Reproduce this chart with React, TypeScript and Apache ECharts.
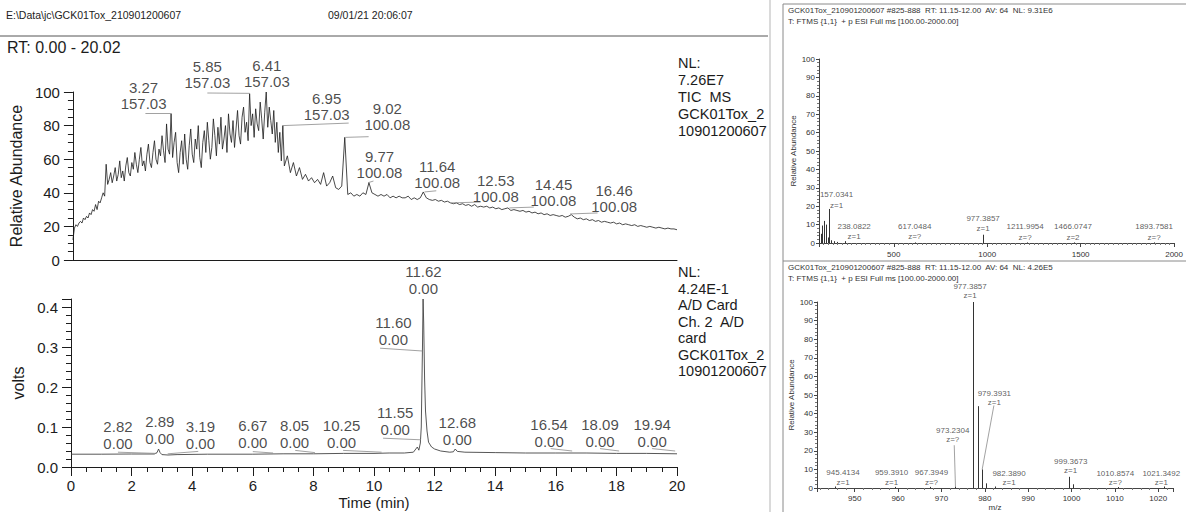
import { useEffect, useRef } from 'react';
import * as echarts from 'echarts';

// ================= DATA =================
// TIC trace, 0.00–6.95 min sampled every 0.05 min (relative abundance, %)
const TIC_EARLY_START = 0;
const TIC_EARLY_STEP = 0.05;
const TIC_EARLY = [
  12, 19, 21, 20, 22, 23, 22, 25, 24, 26,
  25, 28, 27, 30, 29, 33, 30, 35, 34, 37,
  40, 38, 57, 45, 48, 52, 46, 50, 55, 47,
  51, 59, 49, 53, 47, 56, 61, 52, 50, 58,
  54, 64, 57, 52, 60, 67, 56, 59, 53, 63,
  69, 58, 55, 64, 71, 60, 57, 66, 62, 74,
  65, 58, 81, 66, 63, 87, 61, 70, 76, 58,
  52, 64, 71, 57, 75, 60, 54, 68, 78, 63,
  58, 72, 66, 80, 61, 55, 70, 77, 64, 82,
  71, 60, 67, 84, 74, 62, 79, 69, 85, 66,
  72, 80, 64, 87, 75, 70, 83, 67, 78, 89,
  74, 69, 85, 91, 76, 82, 71, 99, 80, 87,
  73, 90, 81, 77, 94, 84, 72, 88, 100, 79,
  91, 83, 75, 89, 70, 82, 64, 76, 59, 80,
];
// TIC trace, 7.0–20.0 min sampled every 0.1 min
const TIC_LATE_START = 7;
const TIC_LATE_STEP = 0.1;
const TIC_LATE = [
  56, 62, 52, 58, 50, 55, 48, 51, 47, 49,
  46, 48, 45, 52, 44, 46, 50, 43, 42, 44,
  73, 39, 40, 38, 39, 38, 40, 39, 46, 40,
  39, 38, 39, 38, 39, 37, 38, 37, 38, 37,
  37, 38, 36, 37, 36, 37, 40.5, 37, 36, 35.5,
  36, 35, 35.5, 34.5, 35, 34, 33.5, 34, 33, 33.5,
  32.5, 33, 32, 33, 31.5, 32, 31.5, 32, 31, 31.5,
  30.5, 31, 30, 30.5, 31, 29.5, 30, 29.5, 29, 29.5,
  28.5, 29, 28, 28.5, 27.5, 28, 27, 27.5, 26.5, 27,
  26.5, 26, 26.5, 25.5, 26, 27, 25.5, 24.5, 25, 24,
  24.5, 23.5, 24, 23, 23.5, 22.5, 23, 22.5, 22, 22.5,
  21.5, 22, 21, 21.5, 21, 20.5, 21, 20, 20.5, 20,
  19.5, 20, 19.5, 19, 19.5, 19, 18.5, 19, 18.5, 18.5,
  18,
];
const TIC_PEAK_RT = [3.27, 5.85, 6.41, 6.95, 9.02, 9.77, 11.64, 12.53, 14.45, 16.46];
const TIC_PEAK_MASS = ['157.03', '157.03', '157.03', '157.03', '100.08', '100.08', '100.08', '100.08', '100.08', '100.08'];
const TIC_PEAK_APEX = [87.5, 99.2, 100, 80, 73, 46, 40.5, 34, 31, 27.4];

// A/D card channel 2 (volts)
const AD_TIME = [0, 1, 2, 2.75, 2.84, 2.89, 2.94, 3.0, 3.2, 3.5, 4.5, 6, 7, 8, 9, 10, 10.5, 11, 11.3, 11.38, 11.43, 11.48, 11.53, 11.56, 11.58, 11.6, 11.62, 11.64, 11.67, 11.7, 11.75, 11.8, 11.9, 12.0, 12.2, 12.5, 12.62, 12.68, 12.75, 13, 14, 15, 16, 17, 18, 19, 20];
const AD_VOLTS = [0.032, 0.032, 0.0325, 0.0325, 0.036, 0.045, 0.036, 0.031, 0.03, 0.031, 0.032, 0.032, 0.033, 0.033, 0.034, 0.034, 0.035, 0.035, 0.037, 0.045, 0.05, 0.042, 0.06, 0.1, 0.2, 0.3, 0.42, 0.36, 0.22, 0.14, 0.09, 0.062, 0.05, 0.045, 0.04, 0.037, 0.038, 0.045, 0.039, 0.037, 0.036, 0.035, 0.035, 0.035, 0.034, 0.034, 0.033];
const AD_PEAK_RT = [2.82, 2.89, 3.19, 6.67, 8.05, 10.25, 11.55, 11.60, 11.62, 12.68, 16.54, 18.09, 19.94];
const AD_PEAK_AREA = ['0.00', '0.00', '0.00', '0.00', '0.00', '0.00', '0.00', '0.00', '0.00', '0.00', '0.00', '0.00', '0.00'];
const AD_PEAK_APEX = [0.034, 0.045, 0.033, 0.035, 0.036, 0.037, 0.068, 0.29, 0.42, 0.045, 0.04, 0.04, 0.04];

// Mass spectrum 1 (m/z 100–2000)
const MS1_MZ = [103, 110, 118, 127, 140, 148, 157.0341, 168, 180, 200, 238.0822, 617.0484, 977.3857, 1211.9954, 1466.0747, 1893.7581];
const MS1_INT = [5.5, 5, 9.5, 12, 10, 3, 18.5, 1.5, 1, 0.6, 1, 0.3, 4.5, 0.3, 0.3, 0.3];
const MS1_LABEL_MZ = ['157.0341', '238.0822', '617.0484', '977.3857', '1211.9954', '1466.0747', '1893.7581'];
const MS1_LABEL_Z = ['z=1', 'z=1', 'z=?', 'z=1', 'z=?', 'z=2', 'z=?'];

// Mass spectrum 2 (zoom m/z 941–1023)
const MS2_MZ = [945.4134, 959.391, 967.3949, 973.2304, 977.3857, 978.39, 979.3931, 980.39, 982.389, 999.3673, 1000.37, 1010.8574, 1021.3492];
const MS2_INT = [0.8, 0.6, 0.6, 0.8, 100, 44, 10, 2.5, 0.8, 6, 2, 0.5, 0.8];
const MS2_LABEL_MZ = ['977.3857', '979.3931', '973.2304', '945.4134', '959.3910', '967.3949', '982.3890', '999.3673', '1010.8574', '1021.3492'];
const MS2_LABEL_Z = ['z=1', 'z=1', 'z=?', 'z=1', 'z=1', 'z=?', 'z=1', 'z=1', 'z=?', 'z=1'];

// ================= LAYOUT (label anchors, in axis units) =================
const TIC_LABEL_AT = [[2.34, 88], [4.45, 100.6], [6.42, 101], [8.4, 81.5], [10.41, 75.6], [10.15, 47], [12.06, 41], [14.0, 32.7], [15.91, 30.4], [17.92, 26.8]];
const TIC_LINK_END = [[2.4, 87.5], [4.45, 99.4], null, [9.13, 81.5], [9.79, 73.4], [9.95, 47], [12.03, 41.2], [13.5, 34.5], [15.26, 31.5], [17.37, 28]];
const AD_LABEL_AT = [[1.55, 0.0375], [2.93, 0.05], [4.27, 0.0375], [6.0, 0.04], [7.38, 0.04], [8.93, 0.04], [10.7, 0.0725], [10.64, 0.2975], [11.63, 0.425], [12.75, 0.0475], [15.78, 0.0425], [17.46, 0.0425], [19.18, 0.0425]];
const AD_LINK_END = [[1.55, 0.037], null, [4.2, 0.039], [6.0, 0.0385], [7.4, 0.0415], [8.98, 0.0415], [10.3, 0.072], [10.2, 0.297], null, null, [15.83, 0.046], [17.46, 0.046], [19.18, 0.046]];
const MS1_LABEL_AT = [[194, 17.5], [288, 0.3], [612, 0.3], [978, 4.5], [1203, 0], [1459, 0], [1893, 0]];
const MS2_LABEL_AT = [[976.6, 100.5], [982.2, 43], [972.6, 23], [947.3, 0.3], [958.5, 0.3], [967.7, 0.3], [985.6, 0], [999.8, 6.5], [1010.1, 0], [1020.7, 0]];
const MS2_LINKS = [[[979.3931, 10], [982.1, 44.4]], [[973.2304, 0.8], [972.95, 23]]];

const FONT = "'Liberation Sans', Arial, Helvetica, sans-serif";
const INK = '#1c1c1c';
const SOFT = '#333333';
const LINK = '#8a8a8a';

function labelSeries(xi: number, yi: number, at: number[][], texts: string[], fontSize: number, lineHeight: number, color: string) {
  return {
    type: 'scatter',
    xAxisIndex: xi,
    yAxisIndex: yi,
    symbolSize: 1,
    clip: false,
    silent: true,
    itemStyle: { color: 'rgba(0,0,0,0)' },
    label: {
      show: true,
      position: 'top',
      distance: 0,
      formatter: (p: any) => p.data.text,
      fontSize,
      lineHeight,
      color,
      fontFamily: FONT,
    },
    data: at.map((pos, i) => ({ value: pos, text: texts[i] })),
    z: 6,
  };
}

function linkSeries(xi: number, yi: number, pairs: number[][][], color: string, width: number) {
  return {
    type: 'lines',
    coordinateSystem: 'cartesian2d',
    xAxisIndex: xi,
    yAxisIndex: yi,
    polyline: false,
    silent: true,
    symbol: ['none', 'none'],
    lineStyle: { color, width, opacity: 1, curveness: 0 },
    data: pairs.map((c) => ({ coords: c })),
    z: 4,
  };
}

function stickSeries(xi: number, yi: number, mz: number[], inten: number[], color: string) {
  return linkSeries(xi, yi, mz.map((m, i) => [[m, 0], [m, inten[i]]]), color, 1);
}

function txt(x: number, y: number, text: string, fontSize: number, fill: string, vAlign = 'middle', lineHeight?: number) {
  return {
    type: 'text',
    x,
    y,
    silent: true,
    style: {
      text,
      fontSize,
      fontFamily: FONT,
      fill,
      align: 'left',
      textAlign: 'left',
      verticalAlign: vAlign,
      textVerticalAlign: vAlign,
      lineHeight: lineHeight || Math.round(fontSize * 1.2),
    },
  };
}

function hline(x1: number, y1: number, x2: number, y2: number, stroke: string) {
  return { type: 'line', silent: true, shape: { x1, y1, x2, y2 }, style: { stroke, lineWidth: 1 } };
}

export default function App() {
  const ref = useRef<HTMLDivElement>(null);

  useEffect(() => {
    if (!ref.current) return;
    const chart = echarts.init(ref.current, undefined, { renderer: 'svg' });

    const ticData: number[][] = [];
    TIC_EARLY.forEach((v, i) => ticData.push([+(TIC_EARLY_START + i * TIC_EARLY_STEP).toFixed(2), v]));
    TIC_LATE.forEach((v, i) => ticData.push([+(TIC_LATE_START + i * TIC_LATE_STEP).toFixed(2), v]));

    const ticLinks: number[][][] = [];
    TIC_PEAK_RT.forEach((rt, i) => {
      const e = TIC_LINK_END[i];
      if (e) ticLinks.push([[rt, TIC_PEAK_APEX[i]], e]);
    });
    const adLinks: number[][][] = [];
    AD_PEAK_RT.forEach((rt, i) => {
      const e = AD_LINK_END[i];
      if (e) adLinks.push([[rt, AD_PEAK_APEX[i]], e]);
    });

    const bigAxisY = (name: string, extra: any) => ({
      type: 'value',
      axisLine: { show: true, lineStyle: { color: INK, width: 1 } },
      axisTick: { show: true, length: 9, lineStyle: { color: INK } },
      minorTick: { show: true, length: 5, lineStyle: { color: INK } },
      axisLabel: { fontSize: 15, color: INK, margin: 13, fontFamily: FONT },
      splitLine: { show: false },
      minorSplitLine: { show: false },
      name,
      nameLocation: 'middle',
      nameGap: 39,
      nameTextStyle: { fontSize: 16, color: INK, fontFamily: FONT },
      ...extra,
    });

    const msAxisY = (gridIndex: number, nameGap: number) => ({
      type: 'value',
      gridIndex,
      min: 0,
      max: 100,
      interval: 10,
      axisLine: { show: true, lineStyle: { color: '#444', width: 1 } },
      axisTick: { show: true, length: 3, lineStyle: { color: '#444' } },
      minorTick: { show: true, splitNumber: 5, length: 2, lineStyle: { color: '#777' } },
      axisLabel: { fontSize: 8, color: SOFT, margin: 4, fontFamily: FONT },
      splitLine: { show: false },
      name: 'Relative Abundance',
      nameLocation: 'middle',
      nameGap,
      nameTextStyle: { fontSize: 8, color: SOFT, fontFamily: FONT },
    });

    const option: any = {
      animation: false,
      backgroundColor: '#ffffff',
      textStyle: { fontFamily: FONT },
      grid: [
        { left: 71, top: 92, width: 606, height: 168 },
        { left: 71, top: 299, width: 606, height: 168 },
        { left: 819, top: 59, width: 364, height: 184 },
        { left: 817, top: 302, width: 356, height: 186 },
      ],
      xAxis: [
        {
          type: 'value', gridIndex: 0, min: 0, max: 20,
          axisLine: { show: true, lineStyle: { color: INK, width: 1 } },
          axisTick: { show: false }, axisLabel: { show: false }, splitLine: { show: false },
        },
        {
          type: 'value', gridIndex: 1, min: 0, max: 20, interval: 2,
          axisLine: { show: true, lineStyle: { color: INK, width: 1 } },
          axisTick: { show: true, length: 9, lineStyle: { color: INK } },
          minorTick: { show: true, splitNumber: 4, length: 5, lineStyle: { color: INK } },
          axisLabel: { fontSize: 15, color: INK, margin: 11, fontFamily: FONT },
          splitLine: { show: false }, minorSplitLine: { show: false },
          name: 'Time (min)', nameLocation: 'middle', nameGap: 28,
          nameTextStyle: { fontSize: 15, color: INK, fontFamily: FONT },
        },
        {
          type: 'value', gridIndex: 2, min: 100, max: 2000, splitNumber: 4,
          axisLine: { show: true, lineStyle: { color: '#444', width: 1 } },
          axisTick: { show: true, length: 4, lineStyle: { color: '#444' } },
          minorTick: { show: true, splitNumber: 20, length: 2, lineStyle: { color: '#777' } },
          axisLabel: {
            fontSize: 8, color: SOFT, margin: 7, fontFamily: FONT, showMinLabel: false,
            formatter: (v: number) => (Math.abs(v % 500) < 1e-6 ? String(v) : ''),
          },
          splitLine: { show: false },
        },
        {
          type: 'value', gridIndex: 3, min: 941.3, max: 1023.4, splitNumber: 8,
          axisLine: { show: true, lineStyle: { color: '#444', width: 1 } },
          axisTick: { show: true, length: 4, lineStyle: { color: '#444' } },
          minorTick: { show: true, splitNumber: 5, length: 2, lineStyle: { color: '#777' } },
          axisLabel: {
            fontSize: 8, color: SOFT, margin: 6, fontFamily: FONT, showMinLabel: false, showMaxLabel: false,
            formatter: (v: number) => (Math.abs(v % 10) < 1e-6 ? String(Math.round(v)) : ''),
          },
          splitLine: { show: false },
          name: 'm/z', nameLocation: 'middle', nameGap: 15,
          nameTextStyle: { fontSize: 8, color: SOFT, fontFamily: FONT },
        },
      ],
      yAxis: [
        bigAxisY('Relative Abundance', { gridIndex: 0, min: 0, max: 100, interval: 20, minorTick: { show: true, splitNumber: 4, length: 5, lineStyle: { color: INK } } }),
        bigAxisY('volts', {
          gridIndex: 1, min: 0, max: 0.42, interval: 0.1,
          minorTick: { show: true, splitNumber: 5, length: 5, lineStyle: { color: INK } },
          axisLabel: { fontSize: 15, color: INK, margin: 13, fontFamily: FONT, showMaxLabel: false, formatter: (v: number) => v.toFixed(1) },
        }),
        msAxisY(2, 22),
        msAxisY(3, 16),
      ],
      series: [
        {
          type: 'line', xAxisIndex: 0, yAxisIndex: 0, data: ticData, showSymbol: false, symbol: 'none',
          clip: false, silent: true, lineStyle: { color: INK, width: 0.8 }, z: 3,
        },
        labelSeries(0, 0, TIC_LABEL_AT, TIC_PEAK_RT.map((rt, i) => `${rt.toFixed(2)}\n${TIC_PEAK_MASS[i]}`), 15, 16, INK),
        linkSeries(0, 0, ticLinks, LINK, 0.8),
        {
          type: 'line', xAxisIndex: 1, yAxisIndex: 1, data: AD_TIME.map((t, i) => [t, AD_VOLTS[i]]), showSymbol: false, symbol: 'none',
          clip: false, silent: true, lineStyle: { color: '#444', width: 0.9 }, z: 3,
        },
        labelSeries(1, 1, AD_LABEL_AT, AD_PEAK_RT.map((rt, i) => `${rt.toFixed(2)}\n${AD_PEAK_AREA[i]}`), 15, 17, INK),
        linkSeries(1, 1, adLinks, LINK, 0.8),
        stickSeries(2, 2, MS1_MZ, MS1_INT, '#333'),
        labelSeries(2, 2, MS1_LABEL_AT, MS1_LABEL_MZ.map((m, i) => `${m}\n${MS1_LABEL_Z[i]}`), 8, 10.5, SOFT),
        stickSeries(3, 3, MS2_MZ, MS2_INT, '#333'),
        labelSeries(3, 3, MS2_LABEL_AT, MS2_LABEL_MZ.map((m, i) => `${m}\n${MS2_LABEL_Z[i]}`), 8, 9.5, SOFT),
        linkSeries(3, 3, MS2_LINKS, LINK, 0.8),
      ],
      graphic: [
        txt(6, 15, 'E:\\Data\\jc\\GCK01Tox_210901200607', 10.5, '#222'),
        txt(328, 15, '09/01/21 20:06:07', 10.5, '#222'),
        hline(0, 36, 768, 36, '#555'),
        txt(7, 47, 'RT: 0.00 - 20.02', 16, INK),
        txt(678, 54.5, 'NL:\n7.26E7\nTIC  MS\nGCK01Tox_2\n10901200607', 14.5, INK, 'top', 17),
        txt(678, 263.75, 'NL:\n4.24E-1\nA/D Card\nCh. 2  A/D\ncard\nGCK01Tox_2\n10901200607', 14.5, INK, 'top', 16.5),
        hline(770, 0, 770, 512, '#b5b5b5'),
        hline(783, 4, 1186, 4, '#8a8a8a'),
        hline(783, 4, 783, 512, '#8a8a8a'),
        hline(783, 261, 1186, 261, '#8a8a8a'),
        txt(788, 10, 'GCK01Tox_210901200607 #825-888  RT: 11.15-12.00  AV: 64  NL: 9.31E6', 8, SOFT),
        txt(788, 21, 'T: FTMS {1,1}  + p ESI Full ms [100.00-2000.00]', 8, SOFT),
        txt(788, 267, 'GCK01Tox_210901200607 #825-888  RT: 11.15-12.00  AV: 64  NL: 4.26E5', 8, SOFT),
        txt(788, 278, 'T: FTMS {1,1}  + p ESI Full ms [100.00-2000.00]', 8, SOFT),
      ],
    };

    chart.setOption(option);
    return () => chart.dispose();
  }, []);

  return (
    <div
      ref={ref}
      style={{ position: 'fixed', left: 0, top: 0, width: 1186, height: 512, background: '#fff' }}
    />
  );
}
